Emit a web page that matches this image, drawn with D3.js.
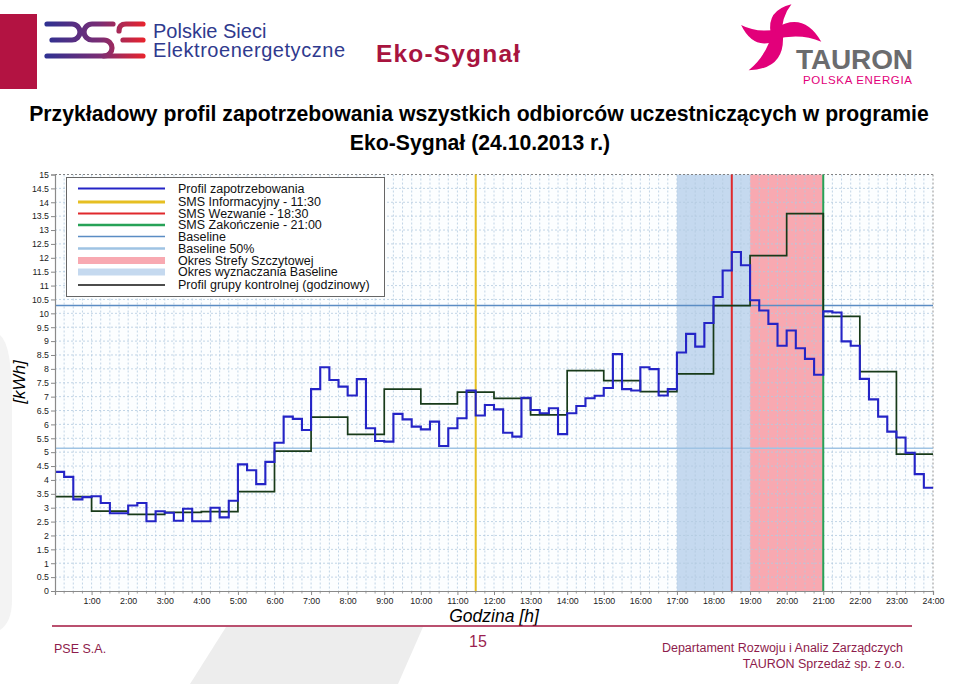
<!DOCTYPE html>
<html><head><meta charset="utf-8">
<script src="https://cdn.jsdelivr.net/npm/d3@7"></script>
<style>body{margin:0;background:#fff} svg{display:block}</style>
</head><body>
<svg id="c" width="959" height="684"></svg>
<script>
// ---------------- DATA ----------------
// 15-minute demand profile [kWh], 96 values from 0:00
const profile = [
  4.29, 4.11, 3.30, 3.38,   3.41, 3.17, 2.80, 2.80,
  3.08, 3.17, 2.51, 2.87,   2.82, 2.53, 2.96, 2.51,
  2.51, 3.00, 2.65, 3.25,   4.56, 4.35, 3.85, 4.65,
  5.34, 6.28, 6.20, 5.80,   7.27, 8.06, 7.60, 7.36,
  7.04, 7.63, 5.86, 5.40,   5.38, 6.38, 6.18, 5.92,
  5.82, 6.10, 5.22, 5.86,   6.22, 7.22, 6.32, 6.70,
  6.54, 5.70, 5.56, 6.96,   6.52, 6.40, 6.58, 5.65,
  6.40, 6.66, 6.94, 7.03,   7.31, 8.53, 7.27, 7.22,
  8.06, 7.99, 7.04, 7.27,   8.59, 9.26, 8.80, 9.65,
  10.59, 11.54, 12.21, 11.73, 10.47, 10.10, 9.62, 8.83,
  9.38, 8.74, 8.36, 7.79,   10.07, 10.03, 8.99, 8.83,
  7.64, 6.90, 6.28, 5.74,   5.53, 4.98, 4.21, 3.72
];
// hourly control group profile [kWh], 24 values from 0:00
const controlGroup = [
  3.40, 2.88, 2.76, 2.83, 2.86, 3.58, 5.04, 6.26, 5.64, 7.27, 6.74, 7.16,
  6.94, 6.34, 7.94, 7.58, 7.18, 7.82, 10.28, 12.08, 13.59, 9.89, 7.90, 4.93
];
const xTickLabels = ["1:00","2:00","3:00","4:00","5:00","6:00","7:00","8:00","9:00","10:00","11:00","12:00",
  "13:00","14:00","15:00","16:00","17:00","18:00","19:00","20:00","21:00","22:00","23:00","24:00"];
const yTickValues = [0,0.5,1,1.5,2,2.5,3,3.5,4,4.5,5,5.5,6,6.5,7,7.5,8,8.5,9,9.5,10,10.5,11,11.5,12,12.5,13,13.5,14,14.5,15];
const baselineValue = 10.28;
const baseline50Value = 5.14;
const smsInfoTime = 11.5, smsCallTime = 18.5, smsEndTime = 21;
const baselinePeriod = [17, 19];
const peakPeriod = [19, 21];
const legendLabels = ["Profil zapotrzebowania","SMS Informacyjny - 11:30","SMS Wezwanie - 18:30",
  "SMS Zakończenie - 21:00","Baseline","Baseline 50%","Okres Strefy Szczytowej",
  "Okres wyznaczania Baseline","Profil grupy kontrolnej (godzinowy)"];

// ---------------- STYLE ----------------
const C = {
  profile:"#2424c6", control:"#173a19", yellow:"#e6bf22", red:"#e0292c", green:"#27a257",
  base:"#5b8dc4", base50:"#9fc3e3", peak:"#f8a9b1", bperiod:"#c5d9ef",
  grid:"#b3cadf", maroon:"#a8143f", footer:"#8e1c4c", navy:"#2f3a8e", pink:"#e2007a", grey:"#6b6c6e"
};
const legendStroke = [
  {c:C.profile,w:2},{c:C.yellow,w:3},{c:C.red,w:2},{c:C.green,w:2.4},{c:C.base,w:1.6},
  {c:C.base50,w:2.4},{c:C.peak,w:7},{c:C.bperiod,w:7},{c:"#111",w:1.6}
];
const legendRowY = [188.5, 202, 213.5, 225, 236.5, 248.5, 260.5, 272, 285];
const FONT = "'Liberation Sans', Arial, sans-serif";

const svg = d3.select("#c");

// ---------------- WATERMARK ----------------
svg.append("path").attr("d","M226,627 L423,627 L398,684 L190,684 Z").attr("fill","#ededed");
svg.append("path").attr("d","M0,335 Q12,345 12,400 L12,600 Q12,622 0,630 Z").attr("fill","#f3f3f3");

// ---------------- HEADER ----------------
svg.append("rect").attr("x",0).attr("y",14).attr("width",37).attr("height",75).attr("fill","#b31342");

const defs = svg.append("defs");
const g1 = defs.append("linearGradient").attr("id","pseg").attr("gradientUnits","userSpaceOnUse")
  .attr("x1",45).attr("x2",145).attr("y1",0).attr("y2",0);
g1.append("stop").attr("offset","0%").attr("stop-color","#2e3192");
g1.append("stop").attr("offset","55%").attr("stop-color","#7a2d74");
g1.append("stop").attr("offset","100%").attr("stop-color","#e8232d");
const pse = svg.append("g").attr("fill","none").attr("stroke","url(#pseg)").attr("stroke-width",5.2)
  .attr("stroke-linecap","round").attr("stroke-linejoin","round");
pse.append("path").attr("d","M47,24 H72 A8,8 0 0 1 72,40 H52");
pse.append("path").attr("d","M113,24 H92 A8,8 0 0 0 92,40 H104 A8,8 0 0 1 104,56");
pse.append("path").attr("d","M143,24 H126 Q119,24 119,31");
pse.append("path").attr("d","M123,40 H143");
pse.append("path").attr("d","M47,56 H143");
svg.append("text").attr("x",153).attr("y",37.5).attr("font-family",FONT).attr("font-size",20)
  .attr("fill",C.navy).text("Polskie Sieci");
svg.append("text").attr("x",153).attr("y",57).attr("font-family",FONT).attr("font-size",20)
  .attr("fill",C.navy).attr("textLength",192).text("Elektroenergetyczne");
svg.append("text").attr("x",376).attr("y",62).attr("font-family",FONT).attr("font-size",24.5)
  .attr("font-weight","bold").attr("fill",C.maroon).attr("textLength",144).text("Eko-Sygnał");

// TAURON logo
const star = svg.append("g").attr("transform","translate(777,34)").attr("fill",C.pink);
[[-64,33],[-166,37],[128,46],[10,45]].forEach(([a,L])=>{
  star.append("path")
    .attr("d",`M-2,-6 Q${L*0.5},${-L*0.6} ${L},0 Q${L*0.5},${-L*0.12} -2,6 Z`)
    .attr("transform",`rotate(${a})`);
});
svg.append("text").attr("x",796).attr("y",69).attr("font-family",FONT).attr("font-size",28)
  .attr("font-weight","bold").attr("fill",C.grey).attr("textLength",117).text("TAURON");
svg.append("text").attr("x",803).attr("y",83.5).attr("font-family",FONT).attr("font-size",11.5)
  .attr("fill",C.pink).attr("textLength",109).text("POLSKA ENERGIA");

// ---------------- TITLE ----------------
svg.append("text").attr("x",479).attr("y",121).attr("text-anchor","middle").attr("font-family",FONT)
  .attr("font-size",21.2).attr("font-weight","bold").attr("fill","#000")
  .text("Przykładowy profil zapotrzebowania wszystkich odbiorców uczestniczących w programie");
svg.append("text").attr("x",480).attr("y",150).attr("text-anchor","middle").attr("font-family",FONT)
  .attr("font-size",21.2).attr("font-weight","bold").attr("fill","#000")
  .text("Eko-Sygnał (24.10.2013 r.)");

// ---------------- PLOT ----------------
const M = {l:55, r:933, t:174.5, b:591};
const x = d3.scaleLinear().domain([0,24]).range([M.l, M.r]);
const y = d3.scaleLinear().domain([0,15]).range([M.b, M.t]);
const plot = svg.append("g");

plot.append("rect").attr("x",x(0)).attr("y",y(15)).attr("width",x(24)-x(0)).attr("height",y(0)-y(15)).attr("fill","#fcfeff");
plot.append("rect").attr("x",x(baselinePeriod[0])).attr("width",x(baselinePeriod[1])-x(baselinePeriod[0]))
  .attr("y",y(15)).attr("height",y(0)-y(15)).attr("fill",C.bperiod);
plot.append("rect").attr("x",x(peakPeriod[0])).attr("width",x(peakPeriod[1])-x(peakPeriod[0]))
  .attr("y",y(15)).attr("height",y(0)-y(15)).attr("fill",C.peak);

// grid
const quarters = d3.range(1,96).map(i=>i/4);
plot.append("g").selectAll("line").data(quarters).join("line")
  .attr("x1",d=>x(d)).attr("x2",d=>x(d)).attr("y1",y(15)).attr("y2",y(0))
  .attr("stroke",C.grid).attr("stroke-width",0.8).attr("stroke-dasharray","2,2");
plot.append("g").selectAll("line").data(yTickValues.filter(v=>v>0&&v<15)).join("line")
  .attr("x1",x(0)).attr("x2",x(24)).attr("y1",d=>y(d)).attr("y2",d=>y(d))
  .attr("stroke",C.grid).attr("stroke-width",0.8).attr("stroke-dasharray","2,2");
// top/right dashed frame
plot.append("line").attr("x1",x(0)).attr("x2",x(24)).attr("y1",y(15)).attr("y2",y(15))
  .attr("stroke","#777").attr("stroke-width",0.9).attr("stroke-dasharray","2,2");
plot.append("line").attr("x1",x(24)).attr("x2",x(24)).attr("y1",y(15)).attr("y2",y(0))
  .attr("stroke","#888").attr("stroke-width",0.9).attr("stroke-dasharray","2,2");

// baselines
plot.append("line").attr("x1",x(0)).attr("x2",x(24)).attr("y1",y(baselineValue)).attr("y2",y(baselineValue))
  .attr("stroke",C.base).attr("stroke-width",1.6);
plot.append("line").attr("x1",x(0)).attr("x2",x(24)).attr("y1",y(baseline50Value)).attr("y2",y(baseline50Value))
  .attr("stroke",C.base50).attr("stroke-width",1.6);

// SMS lines
[[smsInfoTime,C.yellow],[smsCallTime,C.red],[smsEndTime,C.green]].forEach(([t,c])=>{
  plot.append("line").attr("x1",x(t)).attr("x2",x(t)).attr("y1",y(15)).attr("y2",y(0))
    .attr("stroke",c).attr("stroke-width",2);
});

// control group (hourly)
const ctrlPts = controlGroup.map((v,i)=>[i,v]).concat([[24, controlGroup[23]]]);
plot.append("path").datum(ctrlPts)
  .attr("d", d3.line().x(d=>x(d[0])).y(d=>y(d[1])).curve(d3.curveStepAfter))
  .attr("fill","none").attr("stroke",C.control).attr("stroke-width",1.7);

// profile (15 min)
const profPts = profile.map((v,i)=>[i/4,v]).concat([[24, profile[95]]]);
plot.append("path").datum(profPts)
  .attr("d", d3.line().x(d=>x(d[0])).y(d=>y(d[1])).curve(d3.curveStepAfter))
  .attr("fill","none").attr("stroke",C.profile).attr("stroke-width",2.1);

// axes
const yAxis = plot.append("g").attr("transform",`translate(${x(0)},0)`)
  .call(d3.axisLeft(y).tickValues(yTickValues).tickSize(4).tickPadding(2).tickFormat(d3.format("~g")));
const xAxis = plot.append("g").attr("transform",`translate(0,${y(0)})`)
  .call(d3.axisBottom(x).tickValues(d3.range(1,25)).tickSize(4).tickPadding(3).tickFormat(d=>xTickLabels[d-1]));
plot.append("g").selectAll("line").data(quarters.filter(q=>q%1!==0)).join("line")
  .attr("x1",d=>x(d)).attr("x2",d=>x(d)).attr("y1",y(0)).attr("y2",y(0)+2.5).attr("stroke","#888").attr("stroke-width",0.8);
[yAxis,xAxis].forEach(a=>{
  a.select(".domain").attr("stroke","#8a8a8a").attr("stroke-width",1.2);
  a.selectAll(".tick line").attr("stroke","#888");
  a.selectAll("text").attr("font-family",FONT).attr("font-size",8.8).attr("fill","#222");
});

// axis titles
svg.append("text").attr("transform","translate(25,382) rotate(-90)").attr("text-anchor","middle")
  .attr("font-family",FONT).attr("font-size",17).attr("font-style","italic").attr("fill","#000").text("[kWh]");
svg.append("text").attr("x",494).attr("y",621.5).attr("text-anchor","middle")
  .attr("font-family",FONT).attr("font-size",17.5).attr("font-style","italic").attr("fill","#000").text("Godzina [h]");

// legend
const lg = svg.append("g");
lg.append("rect").attr("x",66.5).attr("y",177.5).attr("width",318).attr("height",119)
  .attr("fill","#fff").attr("stroke","#666").attr("stroke-width",1);
legendLabels.forEach((lab,i)=>{
  lg.append("line").attr("x1",78).attr("x2",165).attr("y1",legendRowY[i]).attr("y2",legendRowY[i])
    .attr("stroke",legendStroke[i].c).attr("stroke-width",legendStroke[i].w);
  lg.append("text").attr("x",178).attr("y",legendRowY[i]+4.3).attr("font-family",FONT)
    .attr("font-size",12.5).attr("fill","#111").text(lab);
});

// ---------------- FOOTER ----------------
svg.append("line").attr("x1",52).attr("x2",912).attr("y1",626).attr("y2",626)
  .attr("stroke","#a3163f").attr("stroke-width",1.6);
svg.append("text").attr("x",478).attr("y",647).attr("text-anchor","middle").attr("font-family",FONT)
  .attr("font-size",16).attr("fill","#9b1f50").text("15");
const NAR = "'Liberation Sans Narrow','Arial Narrow', sans-serif";
svg.append("text").attr("x",54).attr("y",653).attr("font-family",NAR).attr("font-size",12.5)
  .attr("fill",C.footer).text("PSE S.A.");
svg.append("text").attr("x",903).attr("y",652).attr("text-anchor","end").attr("font-family",NAR)
  .attr("font-size",12.5).attr("fill",C.footer).text("Departament Rozwoju i Analiz Zarządczych");
svg.append("text").attr("x",905).attr("y",668).attr("text-anchor","end").attr("font-family",NAR)
  .attr("font-size",12.5).attr("fill",C.footer).text("TAURON Sprzedaż sp. z o.o.");
</script>
</body></html>
